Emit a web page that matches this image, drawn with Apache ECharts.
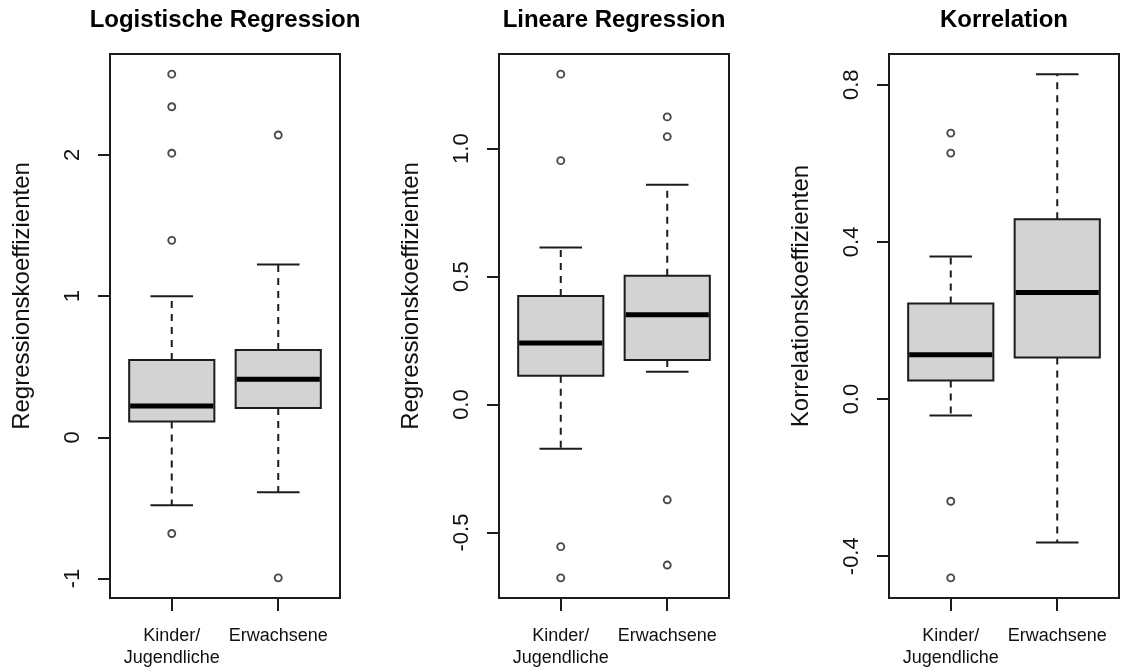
<!DOCTYPE html>
<html>
<head>
<meta charset="utf-8">
<script src="https://cdn.jsdelivr.net/npm/echarts@6/dist/echarts.min.js"></script>
<style>
  html, body { margin: 0; padding: 0; background: #fff; }
  #chart { width: 1121px; height: 669px; }
</style>
</head>
<body>
<div id="chart"></div>
<script>
// Group labels on the x axis
const groups = ['Kinder/\nJugendliche', 'Erwachsene'];

// Panel headings and y-axis titles
const panelTitles = ['Logistische Regression', 'Lineare Regression', 'Korrelation'];
const yTitles = ['Regressionskoeffizienten', 'Regressionskoeffizienten', 'Korrelationskoeffizienten'];

// Box statistics per group: [lower whisker, Q1, median, Q3, upper whisker]
const logKinder = [-0.48, 0.113, 0.222, 0.548, 1.00];
const logErwachsene = [-0.388, 0.208, 0.411, 0.619, 1.224];
const linKinder = [-0.173, 0.113, 0.241, 0.424, 0.614];
const linErwachsene = [0.128, 0.174, 0.351, 0.503, 0.859];
const korKinder = [-0.042, 0.047, 0.113, 0.243, 0.363];
const korErwachsene = [-0.365, 0.106, 0.271, 0.458, 0.827];

// Outlying observations per group
const logKinderOut = [2.572, 2.341, 2.012, 1.395, -0.681];
const logErwachseneOut = [2.141, -0.995];
const linKinderOut = [1.291, 0.953, -0.555, -0.677];
const linErwachseneOut = [1.124, 1.047, -0.372, -0.627];
const korKinderOut = [0.677, 0.626, -0.260, -0.455];
const korErwachseneOut = [];

// Y-axis tick positions and their labels
const logTicks = [-1, 0, 1, 2];
const logTickLabels = ['-1', '0', '1', '2'];
const linTicks = [-0.5, 0, 0.5, 1.0];
const linTickLabels = ['-0.5', '0.0', '0.5', '1.0'];
const korTicks = [-0.4, 0, 0.4, 0.8];
const korTickLabels = ['-0.4', '0.0', '0.4', '0.8'];

const panels = [
  { boxes: [logKinder, logErwachsene], outliers: [logKinderOut, logErwachseneOut], ticks: logTicks, tickLabels: logTickLabels },
  { boxes: [linKinder, linErwachsene], outliers: [linKinderOut, linErwachseneOut], ticks: linTicks, tickLabels: linTickLabels },
  { boxes: [korKinder, korErwachsene], outliers: [korKinderOut, korErwachseneOut], ticks: korTicks, tickLabels: korTickLabels }
];

// Layout of the three plot frames (pixels)
const frameLefts = [110, 499, 889];
const frameTop = 54;
const frameWidth = 230;
const frameHeight = 544;

const FONT = '"Liberation Sans", Arial, Helvetica, sans-serif';
const INK = '#1c1c1c';

// Axis range with a 4% margin on both sides
function paddedRange(values) {
  const lo = Math.min.apply(null, values);
  const hi = Math.max.apply(null, values);
  const pad = (hi - lo) * 0.04;
  return [lo - pad, hi + pad];
}

function drawBox(params, api) {
  const x = api.value(0);
  const v = [1, 2, 3, 4, 5].map(i => api.value(i));
  const y = v.map(val => api.coord([x, val])[1]);
  const cx = api.coord([x, v[2]])[0];
  const bw = api.size([0.8, 0])[0];
  const cw = bw / 2;
  const dashed = { stroke: INK, lineWidth: 2, lineDash: [7, 6], fill: null };
  const solid = { stroke: INK, lineWidth: 2, fill: null };
  return {
    type: 'group',
    children: [
      { type: 'line', shape: { x1: cx, y1: y[3], x2: cx, y2: y[4] }, style: dashed },
      { type: 'line', shape: { x1: cx, y1: y[1], x2: cx, y2: y[0] }, style: dashed },
      { type: 'line', shape: { x1: cx - cw / 2, y1: y[4], x2: cx + cw / 2, y2: y[4] }, style: solid },
      { type: 'line', shape: { x1: cx - cw / 2, y1: y[0], x2: cx + cw / 2, y2: y[0] }, style: solid },
      { type: 'rect', shape: { x: cx - bw / 2, y: y[3], width: bw, height: y[1] - y[3] },
        style: { fill: '#d3d3d3', stroke: INK, lineWidth: 2 } },
      { type: 'line', shape: { x1: cx - bw / 2 + 1, y1: y[2], x2: cx + bw / 2 - 1, y2: y[2] },
        style: { stroke: '#000', lineWidth: 5 } }
    ]
  };
}

const grid = [], xAxis = [], yAxis = [], series = [], graphic = [];

panels.forEach((p, i) => {
  const left = frameLefts[i];
  grid.push({
    left: left, top: frameTop, width: frameWidth, height: frameHeight,
    show: true, borderColor: INK, borderWidth: 2, backgroundColor: 'transparent'
  });

  xAxis.push({
    gridIndex: i, type: 'value', min: 0.42, max: 2.58, position: 'bottom',
    splitLine: { show: false }, axisLine: { show: false, onZero: false },
    axisTick: { show: true, customValues: [1, 2], length: 13, lineStyle: { color: INK, width: 2 } },
    axisLabel: {
      show: true, customValues: [1, 2],
      formatter: v => groups[Math.round(v) - 1],
      fontFamily: FONT, fontSize: 18, lineHeight: 22, color: '#111', margin: 27
    }
  });

  const all = [];
  p.boxes.forEach(b => all.push(...b));
  p.outliers.forEach(o => all.push(...o));
  const range = paddedRange(all);

  yAxis.push({
    gridIndex: i, type: 'value', min: range[0], max: range[1], position: 'left',
    splitLine: { show: false }, axisLine: { show: false, onZero: false },
    axisTick: { show: true, customValues: p.ticks, length: 12, lineStyle: { color: INK, width: 2 } },
    axisLabel: {
      show: true, customValues: p.ticks, rotate: 90,
      formatter: v => {
        let best = 0;
        p.ticks.forEach((t, k) => { if (Math.abs(t - v) < Math.abs(p.ticks[best] - v)) best = k; });
        return p.tickLabels[best];
      },
      fontFamily: FONT, fontSize: 22, color: '#111', margin: 26
    }
  });

  series.push({
    type: 'custom', xAxisIndex: i, yAxisIndex: i,
    renderItem: drawBox,
    encode: { x: 0, y: [1, 2, 3, 4, 5] },
    data: p.boxes.map((b, k) => [k + 1].concat(b)),
    silent: true
  });

  const pts = [];
  p.outliers.forEach((o, k) => o.forEach(val => pts.push([k + 1, val])));
  series.push({
    type: 'scatter', xAxisIndex: i, yAxisIndex: i,
    symbol: 'circle', symbolSize: 7,
    itemStyle: { color: '#fff', borderColor: INK, borderWidth: 1.9 },
    data: pts, silent: true
  });

  graphic.push({
    type: 'text', x: left + frameWidth / 2, y: 20,
    style: {
      text: panelTitles[i], fontFamily: FONT, fontSize: 24, fontWeight: 'bold', fill: '#000',
      textAlign: 'center', textVerticalAlign: 'middle', align: 'center', verticalAlign: 'middle'
    }
  });
  graphic.push({
    type: 'text', x: left - 88, y: 296, rotation: Math.PI / 2,
    style: {
      text: yTitles[i], fontFamily: FONT, fontSize: 24, fill: '#111',
      textAlign: 'center', textVerticalAlign: 'middle', align: 'center', verticalAlign: 'middle'
    }
  });
});

const chart = echarts.init(document.getElementById('chart'), null, { renderer: 'canvas' });
chart.setOption({
  animation: false,
  backgroundColor: '#fff',
  grid: grid, xAxis: xAxis, yAxis: yAxis, series: series, graphic: graphic
});
</script>
</body>
</html>
